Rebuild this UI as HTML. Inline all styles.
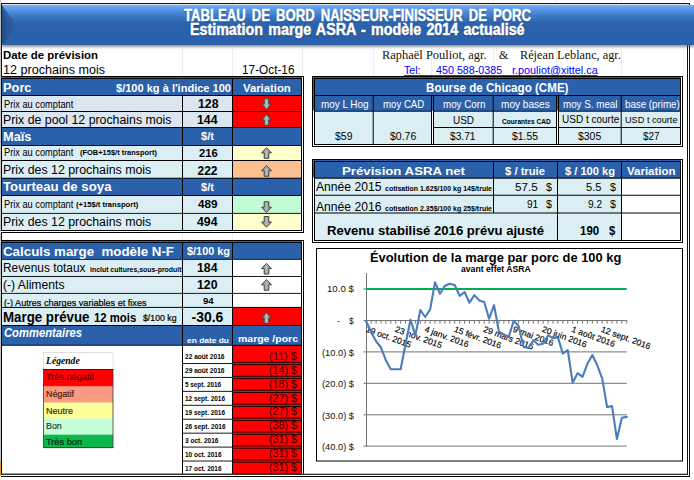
<!DOCTYPE html>
<html lang="fr"><head><meta charset="utf-8">
<title>Tableau de bord naisseur-finisseur de porc</title>
<style>
html,body{margin:0;padding:0;background:#fff;}
body{width:694px;height:480px;position:relative;overflow:hidden;font-family:"Liberation Sans",sans-serif;}
.r{position:absolute;}
.t{position:absolute;white-space:pre;line-height:1;transform-origin:0 50%;}
svg{position:absolute;left:0;top:0;overflow:visible;}
</style></head><body>
<svg width="694" height="480" viewBox="0 0 694 480"><rect x="182" y="0" width="1" height="3" fill="#eceef2"/><rect x="182" y="46" width="1" height="31" fill="#eceef2"/><rect x="232" y="0" width="1" height="3" fill="#eceef2"/><rect x="232" y="46" width="1" height="31" fill="#eceef2"/><rect x="302" y="0" width="1" height="3" fill="#eceef2"/><rect x="302" y="46" width="1" height="31" fill="#eceef2"/><rect x="373" y="0" width="1" height="3" fill="#eceef2"/><rect x="373" y="46" width="1" height="31" fill="#eceef2"/><rect x="431" y="0" width="1" height="3" fill="#eceef2"/><rect x="431" y="46" width="1" height="31" fill="#eceef2"/><rect x="493" y="0" width="1" height="3" fill="#eceef2"/><rect x="493" y="46" width="1" height="31" fill="#eceef2"/><rect x="556" y="0" width="1" height="3" fill="#eceef2"/><rect x="556" y="46" width="1" height="31" fill="#eceef2"/><rect x="621" y="0" width="1" height="3" fill="#eceef2"/><rect x="621" y="46" width="1" height="31" fill="#eceef2"/><rect x="683" y="0" width="1" height="3" fill="#eceef2"/><rect x="683" y="46" width="1" height="31" fill="#eceef2"/><rect x="182" y="232" width="1" height="8" fill="#eceef2"/><rect x="232" y="232" width="1" height="8" fill="#eceef2"/><rect x="1" y="3.1" width="689" height="1" fill="#000"/><rect x="689" y="3.1" width="1" height="2" fill="#000"/><rect x="0" y="0" width="1" height="476" fill="#c4c4c4"/><rect x="1" y="3.1" width="1" height="472" fill="#111"/><rect x="687" y="45" width="1" height="429.8" fill="#111"/><rect x="689" y="45" width="1" height="432" fill="#111"/><rect x="0" y="461" width="1" height="14.6" fill="#e0962c"/><rect x="404" y="75.2" width="193.5" height="1" fill="#0000ff"/><rect x="1" y="76" width="303" height="157" fill="#000"/><rect x="1" y="77" width="302" height="155" fill="#fff"/><rect x="1" y="77" width="301" height="2" fill="#2b61aa"/><rect x="1" y="78" width="301" height="153" fill="#000"/><rect x="2" y="78.9" width="180" height="16.1" fill="#2b61aa"/><rect x="183" y="78.9" width="49" height="16.1" fill="#2b61aa"/><rect x="233" y="78.9" width="68" height="16.1" fill="#2b61aa"/><rect x="2" y="96" width="180" height="15" fill="#dce6f1"/><rect x="183" y="96" width="49" height="15" fill="#dce6f1"/><rect x="233" y="96" width="68" height="15" fill="#ff0000"/><rect x="2" y="112" width="180" height="15" fill="#dce6f1"/><rect x="183" y="112" width="49" height="15" fill="#dce6f1"/><rect x="233" y="112" width="68" height="15" fill="#ff0000"/><rect x="2" y="127.9" width="180" height="17.1" fill="#2b61aa"/><rect x="183" y="127.9" width="49" height="17.1" fill="#2b61aa"/><rect x="233" y="127.9" width="68" height="17.1" fill="#2b61aa"/><rect x="2" y="145.95" width="180" height="14.05" fill="#daeef3"/><rect x="183" y="145.95" width="49" height="14.05" fill="#daeef3"/><rect x="233" y="145.95" width="68" height="14.05" fill="#ffffcc"/><rect x="2" y="161" width="180" height="16.75" fill="#daeef3"/><rect x="183" y="161" width="49" height="16.75" fill="#daeef3"/><rect x="233" y="161" width="68" height="16.75" fill="#fac090"/><rect x="2" y="178.75" width="180" height="16.25" fill="#2b61aa"/><rect x="183" y="178.75" width="49" height="16.25" fill="#2b61aa"/><rect x="233" y="178.75" width="68" height="16.25" fill="#2b61aa"/><rect x="2" y="196" width="180" height="16.9" fill="#daeef3"/><rect x="183" y="196" width="49" height="16.9" fill="#daeef3"/><rect x="233" y="196" width="68" height="16.9" fill="#c1fcd6"/><rect x="2" y="213.8" width="180" height="16.2" fill="#daeef3"/><rect x="183" y="213.8" width="49" height="16.2" fill="#daeef3"/><rect x="233" y="213.8" width="68" height="16.2" fill="#ffffcc"/><rect x="181.7" y="78.9" width="1.6" height="16.1" fill="#2b61aa"/><rect x="1" y="240" width="303" height="237" fill="#000"/><rect x="1" y="241" width="302" height="235" fill="#fff"/><rect x="1" y="241" width="301" height="2" fill="#2b61aa"/><rect x="1" y="242" width="301" height="233" fill="#000"/><rect x="1" y="473.75" width="303" height="3.25" fill="#fff"/><rect x="2" y="242.9" width="180" height="16" fill="#2b61aa"/><rect x="183" y="242.9" width="49" height="16" fill="#2b61aa"/><rect x="233" y="242.9" width="68" height="16" fill="#2b61aa"/><rect x="2" y="259.8" width="180" height="16.2" fill="#daeef3"/><rect x="183" y="259.8" width="49" height="16.2" fill="#daeef3"/><rect x="233" y="259.8" width="68" height="16.2" fill="#fff"/><rect x="2" y="276.9" width="180" height="16" fill="#daeef3"/><rect x="183" y="276.9" width="49" height="16" fill="#daeef3"/><rect x="233" y="276.9" width="68" height="16" fill="#fff"/><rect x="2" y="293.8" width="180" height="13.1" fill="#daeef3"/><rect x="183" y="293.8" width="49" height="13.1" fill="#daeef3"/><rect x="233" y="293.8" width="68" height="13.1" fill="#fff"/><rect x="2" y="307.9" width="180" height="17.1" fill="#daeef3"/><rect x="183" y="307.9" width="49" height="17.1" fill="#daeef3"/><rect x="233" y="307.9" width="68" height="17.1" fill="#ff0000"/><rect x="2" y="326" width="180" height="18.8" fill="#2b61aa"/><rect x="183" y="326" width="49" height="18.8" fill="#2b61aa"/><rect x="233" y="326" width="68" height="18.8" fill="#2b61aa"/><rect x="2" y="345.75" width="180" height="128" fill="#fff"/><rect x="183" y="345.75" width="49" height="128" fill="#fff"/><rect x="233" y="345.75" width="68" height="128" fill="#ff0000"/><rect x="183" y="363" width="49" height="0.9" fill="#000"/><rect x="233" y="361.9" width="68" height="0.9" fill="#000"/><rect x="233" y="364.2" width="68" height="0.85" fill="#000"/><rect x="183" y="376.94" width="49" height="0.9" fill="#000"/><rect x="233" y="375.84" width="68" height="0.9" fill="#000"/><rect x="233" y="378.14" width="68" height="0.85" fill="#000"/><rect x="183" y="390.88" width="49" height="0.9" fill="#000"/><rect x="233" y="389.78" width="68" height="0.9" fill="#000"/><rect x="233" y="392.08" width="68" height="0.85" fill="#000"/><rect x="183" y="404.82" width="49" height="0.9" fill="#000"/><rect x="233" y="403.72" width="68" height="0.9" fill="#000"/><rect x="233" y="406.02" width="68" height="0.85" fill="#000"/><rect x="183" y="418.76" width="49" height="0.9" fill="#000"/><rect x="233" y="417.66" width="68" height="0.9" fill="#000"/><rect x="233" y="419.96" width="68" height="0.85" fill="#000"/><rect x="183" y="432.7" width="49" height="0.9" fill="#000"/><rect x="233" y="431.6" width="68" height="0.9" fill="#000"/><rect x="233" y="433.9" width="68" height="0.85" fill="#000"/><rect x="183" y="446.64" width="49" height="0.9" fill="#000"/><rect x="233" y="445.54" width="68" height="0.9" fill="#000"/><rect x="233" y="447.84" width="68" height="0.85" fill="#000"/><rect x="183" y="460.58" width="49" height="0.9" fill="#000"/><rect x="233" y="459.48" width="68" height="0.9" fill="#000"/><rect x="233" y="461.78" width="68" height="0.85" fill="#000"/><rect x="43" y="352.2" width="70.4" height="17.1" fill="#cfcfcf"/><rect x="43.6" y="352.8" width="69.2" height="16.2" fill="#fff"/><rect x="43.4" y="369.4" width="69.6" height="17.3" fill="#ff0000"/><rect x="43.4" y="386.3" width="69.6" height="16.6" fill="#fa9a80"/><rect x="43.4" y="402.5" width="69.6" height="16.4" fill="#ffff99"/><rect x="43.4" y="418.5" width="69.6" height="16.6" fill="#c6fdd9"/><rect x="43.4" y="434.7" width="69.6" height="12.7" fill="#0cb64a"/><rect x="43" y="369" width="70.4" height="0.9" fill="#1a1a1a"/><rect x="43" y="447.2" width="70.4" height="0.9" fill="#1f1f1f"/><rect x="43" y="369" width="0.8" height="79" fill="#3a3a3a"/><rect x="112.6" y="369" width="0.8" height="79" fill="#3a3a3a"/><rect x="312" y="76" width="371" height="71" fill="#000"/><rect x="313" y="77" width="369" height="69" fill="#fff"/><rect x="313" y="77" width="368" height="33.5" fill="#2b61aa"/><rect x="314" y="78" width="367" height="67" fill="#000"/><rect x="315" y="79" width="365" height="16" fill="#2b61aa"/><rect x="432" y="96" width="1" height="48" fill="#fff"/><rect x="557" y="96" width="1" height="48" fill="#fff"/><rect x="432" y="96" width="1" height="14.75" fill="#2b61aa"/><rect x="557" y="96" width="1" height="14.75" fill="#2b61aa"/><rect x="315" y="95.95" width="57.7" height="14.8" fill="#2b61aa"/><rect x="315" y="111.7" width="57.7" height="32.3" fill="#daeef3"/><rect x="373.7" y="95.95" width="57.3" height="14.8" fill="#2b61aa"/><rect x="373.7" y="111.7" width="57.3" height="32.3" fill="#daeef3"/><rect x="434" y="95.95" width="58.7" height="14.8" fill="#2b61aa"/><rect x="434" y="111.7" width="58.7" height="15.3" fill="#daeef3"/><rect x="434" y="128" width="58.7" height="16" fill="#daeef3"/><rect x="493.7" y="95.95" width="62.3" height="14.8" fill="#2b61aa"/><rect x="493.7" y="111.7" width="62.3" height="15.3" fill="#daeef3"/><rect x="493.7" y="128" width="62.3" height="16" fill="#daeef3"/><rect x="559" y="95.95" width="61.7" height="14.8" fill="#2b61aa"/><rect x="559" y="111.7" width="61.7" height="15.3" fill="#daeef3"/><rect x="559" y="128" width="61.7" height="16" fill="#daeef3"/><rect x="621.7" y="95.95" width="58.3" height="14.8" fill="#2b61aa"/><rect x="621.7" y="111.7" width="58.3" height="15.3" fill="#daeef3"/><rect x="621.7" y="128" width="58.3" height="16" fill="#daeef3"/><rect x="312" y="159" width="371" height="84" fill="#000"/><rect x="313" y="160" width="369" height="82" fill="#fff"/><rect x="313" y="160" width="368" height="17.5" fill="#2b61aa"/><rect x="314" y="161" width="367" height="80" fill="#000"/><rect x="315" y="162" width="178" height="15.6" fill="#2b61aa"/><rect x="315" y="178.7" width="178" height="16.05" fill="#daeef3"/><rect x="315" y="195.75" width="178" height="16.75" fill="#daeef3"/><rect x="315" y="213.5" width="178" height="26.5" fill="#daeef3"/><rect x="494" y="162" width="63" height="15.6" fill="#2b61aa"/><rect x="494" y="178.7" width="63" height="16.05" fill="#daeef3"/><rect x="494" y="195.75" width="63" height="16.75" fill="#daeef3"/><rect x="494" y="213.5" width="63" height="26.5" fill="#daeef3"/><rect x="558" y="162" width="63" height="15.6" fill="#2b61aa"/><rect x="558" y="178.7" width="63" height="16.05" fill="#daeef3"/><rect x="558" y="195.75" width="63" height="16.75" fill="#daeef3"/><rect x="558" y="213.5" width="63" height="26.5" fill="#daeef3"/><rect x="622" y="162" width="58" height="15.6" fill="#2b61aa"/><rect x="622" y="178.7" width="58" height="16.05" fill="#fff"/><rect x="622" y="195.75" width="58" height="16.75" fill="#fff"/><rect x="622" y="213.5" width="58" height="26.5" fill="#fff"/><rect x="492.5" y="213.5" width="2" height="26.5" fill="#daeef3"/><rect x="316" y="248" width="367" height="213.5" fill="#000"/><rect x="317" y="249" width="365" height="211.5" fill="#fff"/><rect x="1" y="473.75" width="687" height="1.05" fill="#000"/><rect x="1" y="476" width="689" height="1" fill="#000"/></svg>
<div class="r" style="left:2px;top:5px;width:692px;height:40.3px;background:linear-gradient(180deg,#74b0fd 0,#64a2f2 6%,#4887d6 20%,#3571bd 34%,#2c64ae 46%,#2b61aa 55%,#2b61aa 100%);box-shadow:0 1.5px 2.5px rgba(80,80,70,.6);"></div>
<svg width="694" height="480" viewBox="0 0 694 480"><defs><linearGradient id="bv" x1="0" x2="1" y1="0" y2="0"><stop offset="0" stop-color="#1d447c" stop-opacity=".8"/><stop offset=".35" stop-color="#234f8e" stop-opacity=".62"/><stop offset="1" stop-color="#27579a" stop-opacity=".35"/></linearGradient></defs><polygon points="2,5.2 17.2,25.4 2,45.3" fill="url(#bv)"/></svg>
<span class="t" style="top:6.73px;font:bold 16.5px/1 'Liberation Sans',sans-serif;color:#fff;left:184.00px;transform:scaleX(0.7952);text-shadow:0 1px 1.5px rgba(10,30,70,.6);-webkit-text-stroke:.5px #fff;word-spacing:3px;">TABLEAU DE BORD NAISSEUR-FINISSEUR DE PORC</span>
<span class="t" style="top:21.76px;font:bold 16px/1 'Liberation Sans',sans-serif;color:#fff;left:189.50px;transform:scaleX(0.8919);text-shadow:0 1px 1.5px rgba(10,30,70,.6);-webkit-text-stroke:.5px #fff;word-spacing:1.5px;">Estimation marge ASRA - modèle 2014 actualisé</span>
<span class="t" style="top:49.69px;font:bold 11px/1 'Liberation Sans',sans-serif;color:#000;left:2.90px;transform:scaleX(1.0360);">Date de prévision</span>
<span class="t" style="top:63.84px;font:normal 12px/1 'Liberation Sans',sans-serif;color:#000;left:3.40px;transform:scaleX(1.0473);">12 prochains mois</span>
<span class="t" style="top:63.84px;font:normal 12px/1 'Liberation Sans',sans-serif;color:#000;left:241.50px;transform:scaleX(0.9839);">17-Oct-16</span>
<span class="t" style="top:48.70px;font:normal 12px/1 'Liberation Serif',serif;color:#1a1208;left:381.75px;transform:scaleX(1.0382);">Raphaël Pouliot, agr.</span>
<span class="t" style="top:48.70px;font:normal 12px/1 'Liberation Serif',serif;color:#1a1208;left:499.00px;">&amp;</span>
<span class="t" style="top:48.70px;font:normal 12px/1 'Liberation Serif',serif;color:#1a1208;left:520.00px;transform:scaleX(1.0215);">Réjean Leblanc, agr.</span>
<span class="t" style="top:64.99px;font:normal 11px/1 'Liberation Sans',sans-serif;color:#0000ff;left:404.00px;transform:scaleX(0.9635);">Tel:</span>
<span class="t" style="top:64.99px;font:normal 11px/1 'Liberation Sans',sans-serif;color:#0000ff;left:436.00px;transform:scaleX(0.9756);">450 588-0385</span>
<span class="t" style="top:64.99px;font:normal 11px/1 'Liberation Sans',sans-serif;color:#0000ff;left:511.75px;transform:scaleX(0.9856);">r.pouliot@xittel.ca</span>
<span class="t" style="top:80.83px;font:bold 13.2px/1 'Liberation Sans',sans-serif;color:#fff;left:3.40px;transform:scaleX(0.9718);">Porc</span>
<span class="t" style="top:83.37px;font:bold 10.67px/1 'Liberation Sans',sans-serif;color:#fff;left:116.00px;transform:scaleX(1.0365);">$/100 kg à l&#x27;indice 100</span>
<span class="t" style="top:83.37px;font:bold 10.67px/1 'Liberation Sans',sans-serif;color:#fff;left:243.12px;transform:scaleX(1.0607);">Variation</span>
<span class="t" style="top:100.03px;font:normal 10px/1 'Liberation Sans',sans-serif;color:#000;left:3.60px;transform:scaleX(0.9234);-webkit-text-stroke:0;">Prix au comptant</span>
<span class="t" style="top:98.04px;font:bold 12px/1 'Liberation Sans',sans-serif;color:#000;left:197.65px;transform:scaleX(1.0234);">128</span>
<span class="t" style="top:113.59px;font:normal 12px/1 'Liberation Sans',sans-serif;color:#000;left:2.60px;transform:scaleX(1.0269);">Prix de pool 12 prochains mois</span>
<span class="t" style="top:113.59px;font:bold 12px/1 'Liberation Sans',sans-serif;color:#000;left:197.25px;transform:scaleX(1.0234);">144</span>
<span class="t" style="top:129.75px;font:bold 13px/1 'Liberation Sans',sans-serif;color:#fff;left:2.70px;transform:scaleX(0.9859);">Maïs</span>
<span class="t" style="top:131.44px;font:bold 11px/1 'Liberation Sans',sans-serif;color:#fff;left:201.08px;">$/t</span>
<span class="t" style="top:148.03px;font:normal 10px/1 'Liberation Sans',sans-serif;color:#000;left:3.60px;transform:scaleX(0.9234);-webkit-text-stroke:0;">Prix au comptant</span>
<span class="t" style="top:149.15px;font:bold 7.5px/1 'Liberation Sans',sans-serif;color:#000;left:80.00px;transform:scaleX(0.9960);">(FOB+15$/t transport)</span>
<span class="t" style="top:147.71px;font:bold 10.5px/1 'Liberation Sans',sans-serif;color:#000;left:198.72px;transform:scaleX(1.0695);">216</span>
<span class="t" style="top:164.09px;font:normal 12px/1 'Liberation Sans',sans-serif;color:#000;left:2.60px;transform:scaleX(1.0290);">Prix des 12 prochains mois</span>
<span class="t" style="top:164.59px;font:bold 12px/1 'Liberation Sans',sans-serif;color:#000;left:197.50px;">222</span>
<span class="t" style="top:180.25px;font:bold 13px/1 'Liberation Sans',sans-serif;color:#fff;left:3.20px;transform:scaleX(1.0170);">Tourteau de soya</span>
<span class="t" style="top:181.94px;font:bold 11px/1 'Liberation Sans',sans-serif;color:#fff;left:201.08px;">$/t</span>
<span class="t" style="top:200.03px;font:normal 10px/1 'Liberation Sans',sans-serif;color:#000;left:3.60px;transform:scaleX(0.9234);-webkit-text-stroke:0;">Prix au comptant</span>
<span class="t" style="top:201.15px;font:bold 7.5px/1 'Liberation Sans',sans-serif;color:#000;left:75.75px;transform:scaleX(1.0125);">(+15$/t transport)</span>
<span class="t" style="top:198.81px;font:bold 10.5px/1 'Liberation Sans',sans-serif;color:#000;left:198.35px;transform:scaleX(1.1123);">489</span>
<span class="t" style="top:215.59px;font:normal 12px/1 'Liberation Sans',sans-serif;color:#000;left:2.60px;transform:scaleX(1.0290);">Prix des 12 prochains mois</span>
<span class="t" style="top:216.09px;font:bold 12px/1 'Liberation Sans',sans-serif;color:#000;left:197.25px;transform:scaleX(1.0234);">494</span>
<span class="t" style="top:244.57px;font:bold 13.5px/1 'Liberation Sans',sans-serif;color:#fff;left:2.80px;transform:scaleX(0.9867);">Calculs marge  modèle N-F</span>
<span class="t" style="top:246.29px;font:bold 11px/1 'Liberation Sans',sans-serif;color:#fff;left:186.50px;transform:scaleX(0.9903);">$/100 kg</span>
<span class="t" style="top:261.84px;font:normal 12px/1 'Liberation Sans',sans-serif;color:#000;left:2.70px;transform:scaleX(0.9893);">Revenus totaux</span>
<span class="t" style="top:266.07px;font:bold 7px/1 'Liberation Sans',sans-serif;color:#000;left:89.50px;transform:scaleX(0.9885);">inclut cultures,sous-produit</span>
<span class="t" style="top:262.34px;font:bold 12px/1 'Liberation Sans',sans-serif;color:#000;left:197.25px;transform:scaleX(1.0234);">184</span>
<span class="t" style="top:278.59px;font:normal 12px/1 'Liberation Sans',sans-serif;color:#000;left:2.90px;transform:scaleX(1.0134);">(-) Aliments</span>
<span class="t" style="top:278.59px;font:bold 12px/1 'Liberation Sans',sans-serif;color:#000;left:197.25px;transform:scaleX(1.0234);">120</span>
<span class="t" style="top:297.84px;font:normal 9.4px/1 'Liberation Sans',sans-serif;color:#000;left:4.00px;transform:scaleX(0.9698);-webkit-text-stroke:.2px #000;">(-) Autres charges variables et fixes</span>
<span class="t" style="top:297.15px;font:bold 8.8px/1 'Liberation Sans',sans-serif;color:#000;left:202.62px;transform:scaleX(1.0973);">94</span>
<span class="t" style="top:309.90px;font:bold 14px/1 'Liberation Sans',sans-serif;color:#000;left:2.70px;transform:scaleX(0.9501);">Marge prévue</span>
<span class="t" style="top:311.59px;font:bold 12px/1 'Liberation Sans',sans-serif;color:#000;left:94.00px;transform:scaleX(0.9451);">12 mois</span>
<span class="t" style="top:313.98px;font:normal 9px/1 'Liberation Sans',sans-serif;color:#000;left:142.50px;transform:scaleX(0.9701);-webkit-text-stroke:.2px #000;">$/100 kg</span>
<span class="t" style="top:309.90px;font:bold 14px/1 'Liberation Sans',sans-serif;color:#000;left:191.50px;">-30.6</span>
<span class="t" style="top:326.84px;font:italic bold 12px/1 'Liberation Sans',sans-serif;color:#fff;left:4.00px;transform:scaleX(0.9355);">Commentaires</span>
<span class="t" style="top:336.97px;font:bold 7px/1 'Liberation Sans',sans-serif;color:#fff;left:186.50px;transform:scaleX(1.1995);">en date du</span>
<span class="t" style="top:334.30px;font:bold 9.8px/1 'Liberation Sans',sans-serif;color:#fff;left:237.80px;transform:scaleX(1.0696);">marge /porc</span>
<span class="t" style="top:354.48px;font:bold 6.7px/1 'Liberation Sans',sans-serif;color:#000;left:184.50px;transform:scaleX(0.9837);">22 août 2016</span>
<span class="t" style="top:350.72px;font:normal 10.67px/1 'Liberation Sans',sans-serif;color:#3a0000;left:269.00px;transform:scaleX(1.0352);">(11) $</span>
<span class="t" style="top:368.42px;font:bold 6.7px/1 'Liberation Sans',sans-serif;color:#000;left:184.50px;transform:scaleX(0.9837);">29 août 2016</span>
<span class="t" style="top:364.66px;font:normal 10.67px/1 'Liberation Sans',sans-serif;color:#3a0000;left:269.00px;transform:scaleX(1.0056);">(14) $</span>
<span class="t" style="top:382.36px;font:bold 6.7px/1 'Liberation Sans',sans-serif;color:#000;left:184.50px;transform:scaleX(0.9493);">5 sept. 2016</span>
<span class="t" style="top:378.60px;font:normal 10.67px/1 'Liberation Sans',sans-serif;color:#3a0000;left:269.00px;transform:scaleX(1.0056);">(18) $</span>
<span class="t" style="top:396.30px;font:bold 6.7px/1 'Liberation Sans',sans-serif;color:#000;left:184.50px;transform:scaleX(0.9606);">12 sept. 2016</span>
<span class="t" style="top:392.54px;font:normal 10.67px/1 'Liberation Sans',sans-serif;color:#3a0000;left:269.00px;transform:scaleX(1.0056);">(27) $</span>
<span class="t" style="top:410.24px;font:bold 6.7px/1 'Liberation Sans',sans-serif;color:#000;left:184.50px;transform:scaleX(0.9606);">19 sept. 2016</span>
<span class="t" style="top:406.48px;font:normal 10.67px/1 'Liberation Sans',sans-serif;color:#3a0000;left:269.00px;transform:scaleX(1.0056);">(27) $</span>
<span class="t" style="top:424.18px;font:bold 6.7px/1 'Liberation Sans',sans-serif;color:#000;left:184.50px;transform:scaleX(0.9726);">26 sept. 2016</span>
<span class="t" style="top:420.42px;font:normal 10.67px/1 'Liberation Sans',sans-serif;color:#3a0000;left:269.00px;transform:scaleX(1.0056);">(38) $</span>
<span class="t" style="top:438.12px;font:bold 6.7px/1 'Liberation Sans',sans-serif;color:#000;left:184.50px;transform:scaleX(0.9794);">3 oct. 2016</span>
<span class="t" style="top:434.36px;font:normal 10.67px/1 'Liberation Sans',sans-serif;color:#3a0000;left:269.00px;transform:scaleX(1.0056);">(31) $</span>
<span class="t" style="top:452.06px;font:bold 6.7px/1 'Liberation Sans',sans-serif;color:#000;left:184.50px;transform:scaleX(0.9625);">10 oct. 2016</span>
<span class="t" style="top:448.30px;font:normal 10.67px/1 'Liberation Sans',sans-serif;color:#3a0000;left:269.00px;transform:scaleX(1.0056);">(31) $</span>
<span class="t" style="top:466.03px;font:bold 6.7px/1 'Liberation Sans',sans-serif;color:#000;left:184.50px;transform:scaleX(0.9625);">17 oct. 2016</span>
<span class="t" style="top:462.27px;font:normal 10.67px/1 'Liberation Sans',sans-serif;color:#3a0000;left:269.00px;transform:scaleX(1.0056);">(31) $</span>
<span class="t" style="top:372.21px;font:normal 9.5px/1 'Liberation Sans',sans-serif;color:#5a0000;left:46.10px;transform:scaleX(0.9636);-webkit-text-stroke:.2px #5a0000;">Très négatif</span>
<span class="t" style="top:389.06px;font:normal 9.5px/1 'Liberation Sans',sans-serif;color:#4a1a10;left:46.10px;transform:scaleX(0.9299);-webkit-text-stroke:.2px #4a1a10;">Négatif</span>
<span class="t" style="top:405.56px;font:normal 9.5px/1 'Liberation Sans',sans-serif;color:#333310;left:46.10px;transform:scaleX(0.9468);-webkit-text-stroke:.2px #333310;">Neutre</span>
<span class="t" style="top:421.26px;font:normal 9.5px/1 'Liberation Sans',sans-serif;color:#1d4034;left:46.10px;transform:scaleX(0.9316);-webkit-text-stroke:.2px #1d4034;">Bon</span>
<span class="t" style="top:436.86px;font:normal 9.5px/1 'Liberation Sans',sans-serif;color:#022a10;left:46.10px;transform:scaleX(0.9693);-webkit-text-stroke:.2px #022a10;">Très bon</span>
<span class="t" style="top:356.31px;font:italic bold 10.5px/1 'Liberation Serif',serif;color:#000;left:45.50px;transform:scaleX(0.9170);">Légende</span>
<span class="t" style="top:81.59px;font:bold 12px/1 'Liberation Sans',sans-serif;color:#fff;left:426.25px;transform:scaleX(0.9670);">Bourse de Chicago (CME)</span>
<span class="t" style="top:99.21px;font:normal 10.5px/1 'Liberation Sans',sans-serif;color:#fff;left:320.50px;transform:scaleX(0.9426);">moy L Hog</span>
<span class="t" style="top:99.21px;font:normal 10.5px/1 'Liberation Sans',sans-serif;color:#fff;left:382.50px;transform:scaleX(0.9179);">moy CAD</span>
<span class="t" style="top:99.21px;font:normal 10.5px/1 'Liberation Sans',sans-serif;color:#fff;left:442.50px;transform:scaleX(0.9337);">moy Corn</span>
<span class="t" style="top:99.21px;font:normal 10.5px/1 'Liberation Sans',sans-serif;color:#fff;left:501.25px;transform:scaleX(0.9600);">moy bases</span>
<span class="t" style="top:99.21px;font:normal 10.5px/1 'Liberation Sans',sans-serif;color:#fff;left:562.50px;transform:scaleX(0.9339);">moy S. meal</span>
<span class="t" style="top:99.21px;font:normal 10.5px/1 'Liberation Sans',sans-serif;color:#fff;left:624.50px;transform:scaleX(0.9290);">base (prime)</span>
<span class="t" style="top:131.19px;font:normal 11px/1 'Liberation Sans',sans-serif;color:#000;left:335.00px;transform:scaleX(0.9532);">$59</span>
<span class="t" style="top:131.19px;font:normal 11px/1 'Liberation Sans',sans-serif;color:#000;left:390.00px;transform:scaleX(0.9535);">$0.76</span>
<span class="t" style="top:131.19px;font:normal 11px/1 'Liberation Sans',sans-serif;color:#000;left:450.00px;transform:scaleX(0.9262);">$3.71</span>
<span class="t" style="top:131.19px;font:normal 11px/1 'Liberation Sans',sans-serif;color:#000;left:512.00px;transform:scaleX(0.9444);">$1.55</span>
<span class="t" style="top:131.19px;font:normal 11px/1 'Liberation Sans',sans-serif;color:#000;left:578.00px;transform:scaleX(0.9496);">$305</span>
<span class="t" style="top:131.19px;font:normal 11px/1 'Liberation Sans',sans-serif;color:#000;left:643.00px;transform:scaleX(0.8987);">$27</span>
<span class="t" style="top:114.77px;font:normal 10.67px/1 'Liberation Sans',sans-serif;color:#000;left:453.40px;transform:scaleX(0.9333);-webkit-text-stroke:0;">USD</span>
<span class="t" style="top:117.82px;font:bold 7px/1 'Liberation Sans',sans-serif;color:#000;left:501.75px;transform:scaleX(0.9423);">Courantes CAD</span>
<span class="t" style="top:114.98px;font:normal 10.3px/1 'Liberation Sans',sans-serif;color:#000;left:561.50px;transform:scaleX(0.9720);">USD t courte</span>
<span class="t" style="top:115.47px;font:normal 9.6px/1 'Liberation Sans',sans-serif;color:#000;left:625.00px;transform:scaleX(0.9559);-webkit-text-stroke:0;">USD t courte</span>
<span class="t" style="top:164.60px;font:bold 11.7px/1 'Liberation Sans',sans-serif;color:#fff;left:342.00px;transform:scaleX(1.1296);">Prévision ASRA net</span>
<span class="t" style="top:165.57px;font:bold 10.67px/1 'Liberation Sans',sans-serif;color:#fff;left:505.00px;transform:scaleX(1.0552);">$ / truie</span>
<span class="t" style="top:165.57px;font:bold 10.67px/1 'Liberation Sans',sans-serif;color:#fff;left:565.00px;transform:scaleX(1.0420);">$ / 100 kg</span>
<span class="t" style="top:165.67px;font:bold 10.67px/1 'Liberation Sans',sans-serif;color:#fff;left:627.25px;transform:scaleX(1.0796);">Variation</span>
<span class="t" style="top:180.59px;font:normal 12px/1 'Liberation Sans',sans-serif;color:#000;left:315.75px;transform:scaleX(1.0118);">Année 2015</span>
<span class="t" style="top:184.82px;font:bold 7px/1 'Liberation Sans',sans-serif;color:#000;left:385.00px;">cotisation 1.62$/100 kg 14$/truie</span>
<span class="t" style="top:182.27px;font:normal 10.67px/1 'Liberation Sans',sans-serif;color:#000;left:514.60px;transform:scaleX(1.0940);">57.5</span>
<span class="t" style="top:182.27px;font:normal 10.67px/1 'Liberation Sans',sans-serif;color:#000;left:545.70px;transform:scaleX(1.0105);">$</span>
<span class="t" style="top:182.27px;font:normal 10.67px/1 'Liberation Sans',sans-serif;color:#000;left:585.50px;transform:scaleX(1.0453);">5.5</span>
<span class="t" style="top:182.27px;font:normal 10.67px/1 'Liberation Sans',sans-serif;color:#000;left:609.60px;transform:scaleX(1.0105);">$</span>
<span class="t" style="top:200.59px;font:normal 12px/1 'Liberation Sans',sans-serif;color:#000;left:315.75px;transform:scaleX(1.0118);">Année 2016</span>
<span class="t" style="top:204.82px;font:bold 7px/1 'Liberation Sans',sans-serif;color:#000;left:385.00px;">cotisation 2.35$/100 kg 25$/truie</span>
<span class="t" style="top:198.97px;font:normal 10.67px/1 'Liberation Sans',sans-serif;color:#000;left:526.90px;transform:scaleX(0.9444);">91</span>
<span class="t" style="top:198.97px;font:normal 10.67px/1 'Liberation Sans',sans-serif;color:#000;left:545.70px;transform:scaleX(1.0105);">$</span>
<span class="t" style="top:198.97px;font:normal 10.67px/1 'Liberation Sans',sans-serif;color:#000;left:588.40px;transform:scaleX(0.9442);">9.2</span>
<span class="t" style="top:198.97px;font:normal 10.67px/1 'Liberation Sans',sans-serif;color:#000;left:609.60px;transform:scaleX(1.0105);">$</span>
<span class="t" style="top:225.07px;font:bold 12.2px/1 'Liberation Sans',sans-serif;color:#000;left:327.00px;transform:scaleX(1.0749);">Revenu stabilisé 2016 prévu ajusté</span>
<span class="t" style="top:225.04px;font:bold 12px/1 'Liberation Sans',sans-serif;color:#000;left:579.50px;transform:scaleX(0.9585);">190</span>
<span class="t" style="top:225.04px;font:bold 12px/1 'Liberation Sans',sans-serif;color:#000;left:608.90px;transform:scaleX(0.9421);">$</span>
<span class="t" style="top:250.75px;font:bold 13px/1 'Liberation Sans',sans-serif;color:#000;left:370.00px;transform:scaleX(0.9908);">Évolution de la marge par porc de 100 kg</span>
<span class="t" style="top:264.88px;font:bold 9px/1 'Liberation Sans',sans-serif;color:#000;left:460.75px;transform:scaleX(0.9596);">avant effet ASRA</span>
<span class="t" style="top:284.35px;font:normal 9.8px/1 'Liberation Sans',sans-serif;color:#111;left:326.95px;transform:scaleX(0.9835);-webkit-text-stroke:0;">10.0 $</span>
<span class="t" style="top:316.10px;font:normal 9.8px/1 'Liberation Sans',sans-serif;color:#111;left:337.00px;transform:scaleX(0.8542);-webkit-text-stroke:0;">-    $</span>
<span class="t" style="top:347.60px;font:normal 9.8px/1 'Liberation Sans',sans-serif;color:#111;left:321.75px;transform:scaleX(0.9477);-webkit-text-stroke:0;">(10.0) $</span>
<span class="t" style="top:379.00px;font:normal 9.8px/1 'Liberation Sans',sans-serif;color:#111;left:321.75px;transform:scaleX(0.9477);-webkit-text-stroke:0;">(20.0) $</span>
<span class="t" style="top:410.60px;font:normal 9.8px/1 'Liberation Sans',sans-serif;color:#111;left:321.75px;transform:scaleX(0.9477);-webkit-text-stroke:0;">(30.0) $</span>
<span class="t" style="top:442.00px;font:normal 9.8px/1 'Liberation Sans',sans-serif;color:#111;left:321.75px;transform:scaleX(0.9477);-webkit-text-stroke:0;">(40.0) $</span>
<svg width="694" height="480" viewBox="0 0 694 480"><defs><linearGradient id="ag" x1="0" x2="1" y1="0" y2="0"><stop offset="0" stop-color="#7c7c7c"/><stop offset=".5" stop-color="#b9b9b9"/><stop offset="1" stop-color="#7c7c7c"/></linearGradient></defs>
<line x1="363.5" y1="351.9" x2="626.75" y2="351.9" stroke="#747474" stroke-width="1"/>
<line x1="363.5" y1="383.3" x2="626.75" y2="383.3" stroke="#747474" stroke-width="1"/>
<line x1="363.5" y1="414.8" x2="626.75" y2="414.8" stroke="#747474" stroke-width="1"/>
<line x1="363.5" y1="446.1" x2="626.75" y2="446.1" stroke="#747474" stroke-width="1"/>
<line x1="366.5" y1="273" x2="366.5" y2="446.6" stroke="#747474" stroke-width="1"/>
<line x1="363.5" y1="320.5" x2="626.75" y2="320.5" stroke="#747474" stroke-width="1"/>
<path d="M366.25 320.5v3.2M371.17 320.5v3.2M376.08 320.5v3.2M381.00 320.5v3.2M385.91 320.5v3.2M390.82 320.5v3.2M395.74 320.5v3.2M400.65 320.5v3.2M405.57 320.5v3.2M410.49 320.5v3.2M415.40 320.5v3.2M420.31 320.5v3.2M425.23 320.5v3.2M430.14 320.5v3.2M435.06 320.5v3.2M439.98 320.5v3.2M444.89 320.5v3.2M449.81 320.5v3.2M454.72 320.5v3.2M459.63 320.5v3.2M464.55 320.5v3.2M469.47 320.5v3.2M474.38 320.5v3.2M479.30 320.5v3.2M484.21 320.5v3.2M489.12 320.5v3.2M494.04 320.5v3.2M498.96 320.5v3.2M503.87 320.5v3.2M508.78 320.5v3.2M513.70 320.5v3.2M518.62 320.5v3.2M523.53 320.5v3.2M528.44 320.5v3.2M533.36 320.5v3.2M538.27 320.5v3.2M543.19 320.5v3.2M548.11 320.5v3.2M553.02 320.5v3.2M557.93 320.5v3.2M562.85 320.5v3.2M567.76 320.5v3.2M572.68 320.5v3.2M577.60 320.5v3.2M582.51 320.5v3.2M587.42 320.5v3.2M592.34 320.5v3.2M597.25 320.5v3.2M602.17 320.5v3.2M607.09 320.5v3.2M612.00 320.5v3.2M616.91 320.5v3.2M621.83 320.5v3.2M626.75 320.5v3.2" stroke="#747474" stroke-width="1" fill="none"/>
<line x1="363.3" y1="289" x2="366.5" y2="289" stroke="#747474" stroke-width="1"/>
<line x1="366" y1="289" x2="626.75" y2="289" stroke="#00b050" stroke-width="2.1"/>
<text x="0" y="0" transform="translate(365.20,331.6) rotate(20)" font-family="Liberation Sans,sans-serif" font-size="8.6" fill="#000" stroke="#000" stroke-width=".15">19 oct. 2015</text>
<text x="0" y="0" transform="translate(394.60,331.6) rotate(20)" font-family="Liberation Sans,sans-serif" font-size="8.6" fill="#000" stroke="#000" stroke-width=".15">23 nov. 2015</text>
<text x="0" y="0" transform="translate(424.00,331.6) rotate(20)" font-family="Liberation Sans,sans-serif" font-size="8.6" fill="#000" stroke="#000" stroke-width=".15">4 janv. 2016</text>
<text x="0" y="0" transform="translate(453.40,331.6) rotate(20)" font-family="Liberation Sans,sans-serif" font-size="8.6" fill="#000" stroke="#000" stroke-width=".15">15 févr. 2016</text>
<text x="0" y="0" transform="translate(482.80,331.6) rotate(20)" font-family="Liberation Sans,sans-serif" font-size="8.6" fill="#000" stroke="#000" stroke-width=".15">29 mars 2016</text>
<text x="0" y="0" transform="translate(512.20,331.6) rotate(20)" font-family="Liberation Sans,sans-serif" font-size="8.6" fill="#000" stroke="#000" stroke-width=".15">9 mai 2016</text>
<text x="0" y="0" transform="translate(541.60,331.6) rotate(20)" font-family="Liberation Sans,sans-serif" font-size="8.6" fill="#000" stroke="#000" stroke-width=".15">20 juin 2016</text>
<text x="0" y="0" transform="translate(571.00,331.6) rotate(20)" font-family="Liberation Sans,sans-serif" font-size="8.6" fill="#000" stroke="#000" stroke-width=".15">1 août 2016</text>
<text x="0" y="0" transform="translate(600.40,331.6) rotate(20)" font-family="Liberation Sans,sans-serif" font-size="8.6" fill="#000" stroke="#000" stroke-width=".15">12 sept. 2016</text>
<polyline fill="none" stroke="#4a7ebb" stroke-width="2.1" stroke-linejoin="round" stroke-linecap="round" points="366.25,321.25 371.17,332.3 376.08,341.25 381.00,347.5 385.91,360.4 390.82,369.2 395.74,369.2 400.65,369.2 405.57,344 410.49,319.8 415.40,335.4 420.31,310 425.23,317 430.14,309.4 435.06,282.3 439.98,293.75 444.89,285.8 449.81,283.75 454.72,285 459.63,295.8 464.55,292 469.47,302.7 474.38,295.2 479.30,300.4 484.21,302 489.12,318.75 494.04,305.2 498.96,331.7 503.87,334.4 508.78,337 513.70,320.8 518.62,326 523.53,346.9 528.44,348 533.36,340.2 538.27,344.8 543.19,343.8 548.11,335.3 553.02,338.1 557.93,337.5 562.85,353.6 567.76,350 572.68,382.8 577.60,373.1 582.51,376.9 587.42,363.8 592.34,355 597.25,365.3 602.17,378.4 607.09,407 612.00,406.1 616.91,439.1 621.83,417.8 626.75,416.9"/>
<g transform="translate(266.5,104) rotate(180)"><polygon points="0,-5.35 4.95,-0.1 2.3,-0.1 2.3,5.35 -2.3,5.35 -2.3,-0.1 -4.95,-0.1" fill="url(#ag)" stroke="#3d4444" stroke-width="1" stroke-linejoin="miter"/></g>
<g transform="translate(266.5,120)"><polygon points="0,-5.35 4.95,-0.1 2.3,-0.1 2.3,5.35 -2.3,5.35 -2.3,-0.1 -4.95,-0.1" fill="url(#ag)" stroke="#3d4444" stroke-width="1" stroke-linejoin="miter"/></g>
<g transform="translate(266.5,153)"><polygon points="0,-5.35 4.95,-0.1 2.3,-0.1 2.3,5.35 -2.3,5.35 -2.3,-0.1 -4.95,-0.1" fill="url(#ag)" stroke="#3d4444" stroke-width="1" stroke-linejoin="miter"/></g>
<g transform="translate(266.5,170.9)"><polygon points="0,-5.35 4.95,-0.1 2.3,-0.1 2.3,5.35 -2.3,5.35 -2.3,-0.1 -4.95,-0.1" fill="url(#ag)" stroke="#3d4444" stroke-width="1" stroke-linejoin="miter"/></g>
<g transform="translate(266.5,207.1) rotate(180)"><polygon points="0,-5.35 4.95,-0.1 2.3,-0.1 2.3,5.35 -2.3,5.35 -2.3,-0.1 -4.95,-0.1" fill="url(#ag)" stroke="#3d4444" stroke-width="1" stroke-linejoin="miter"/></g>
<g transform="translate(266.5,221.9) rotate(180)"><polygon points="0,-5.35 4.95,-0.1 2.3,-0.1 2.3,5.35 -2.3,5.35 -2.3,-0.1 -4.95,-0.1" fill="url(#ag)" stroke="#3d4444" stroke-width="1" stroke-linejoin="miter"/></g>
<g transform="translate(266.5,268.7)"><polygon points="0,-5.35 4.95,-0.1 2.3,-0.1 2.3,5.35 -2.3,5.35 -2.3,-0.1 -4.95,-0.1" fill="url(#ag)" stroke="#3d4444" stroke-width="1" stroke-linejoin="miter"/></g>
<g transform="translate(266.5,284.9)"><polygon points="0,-5.35 4.95,-0.1 2.3,-0.1 2.3,5.35 -2.3,5.35 -2.3,-0.1 -4.95,-0.1" fill="url(#ag)" stroke="#3d4444" stroke-width="1" stroke-linejoin="miter"/></g>
<g transform="translate(266.5,318)"><polygon points="0,-5.35 4.95,-0.1 2.3,-0.1 2.3,5.35 -2.3,5.35 -2.3,-0.1 -4.95,-0.1" fill="url(#ag)" stroke="#3d4444" stroke-width="1" stroke-linejoin="miter"/></g>
</svg>
</body></html>
